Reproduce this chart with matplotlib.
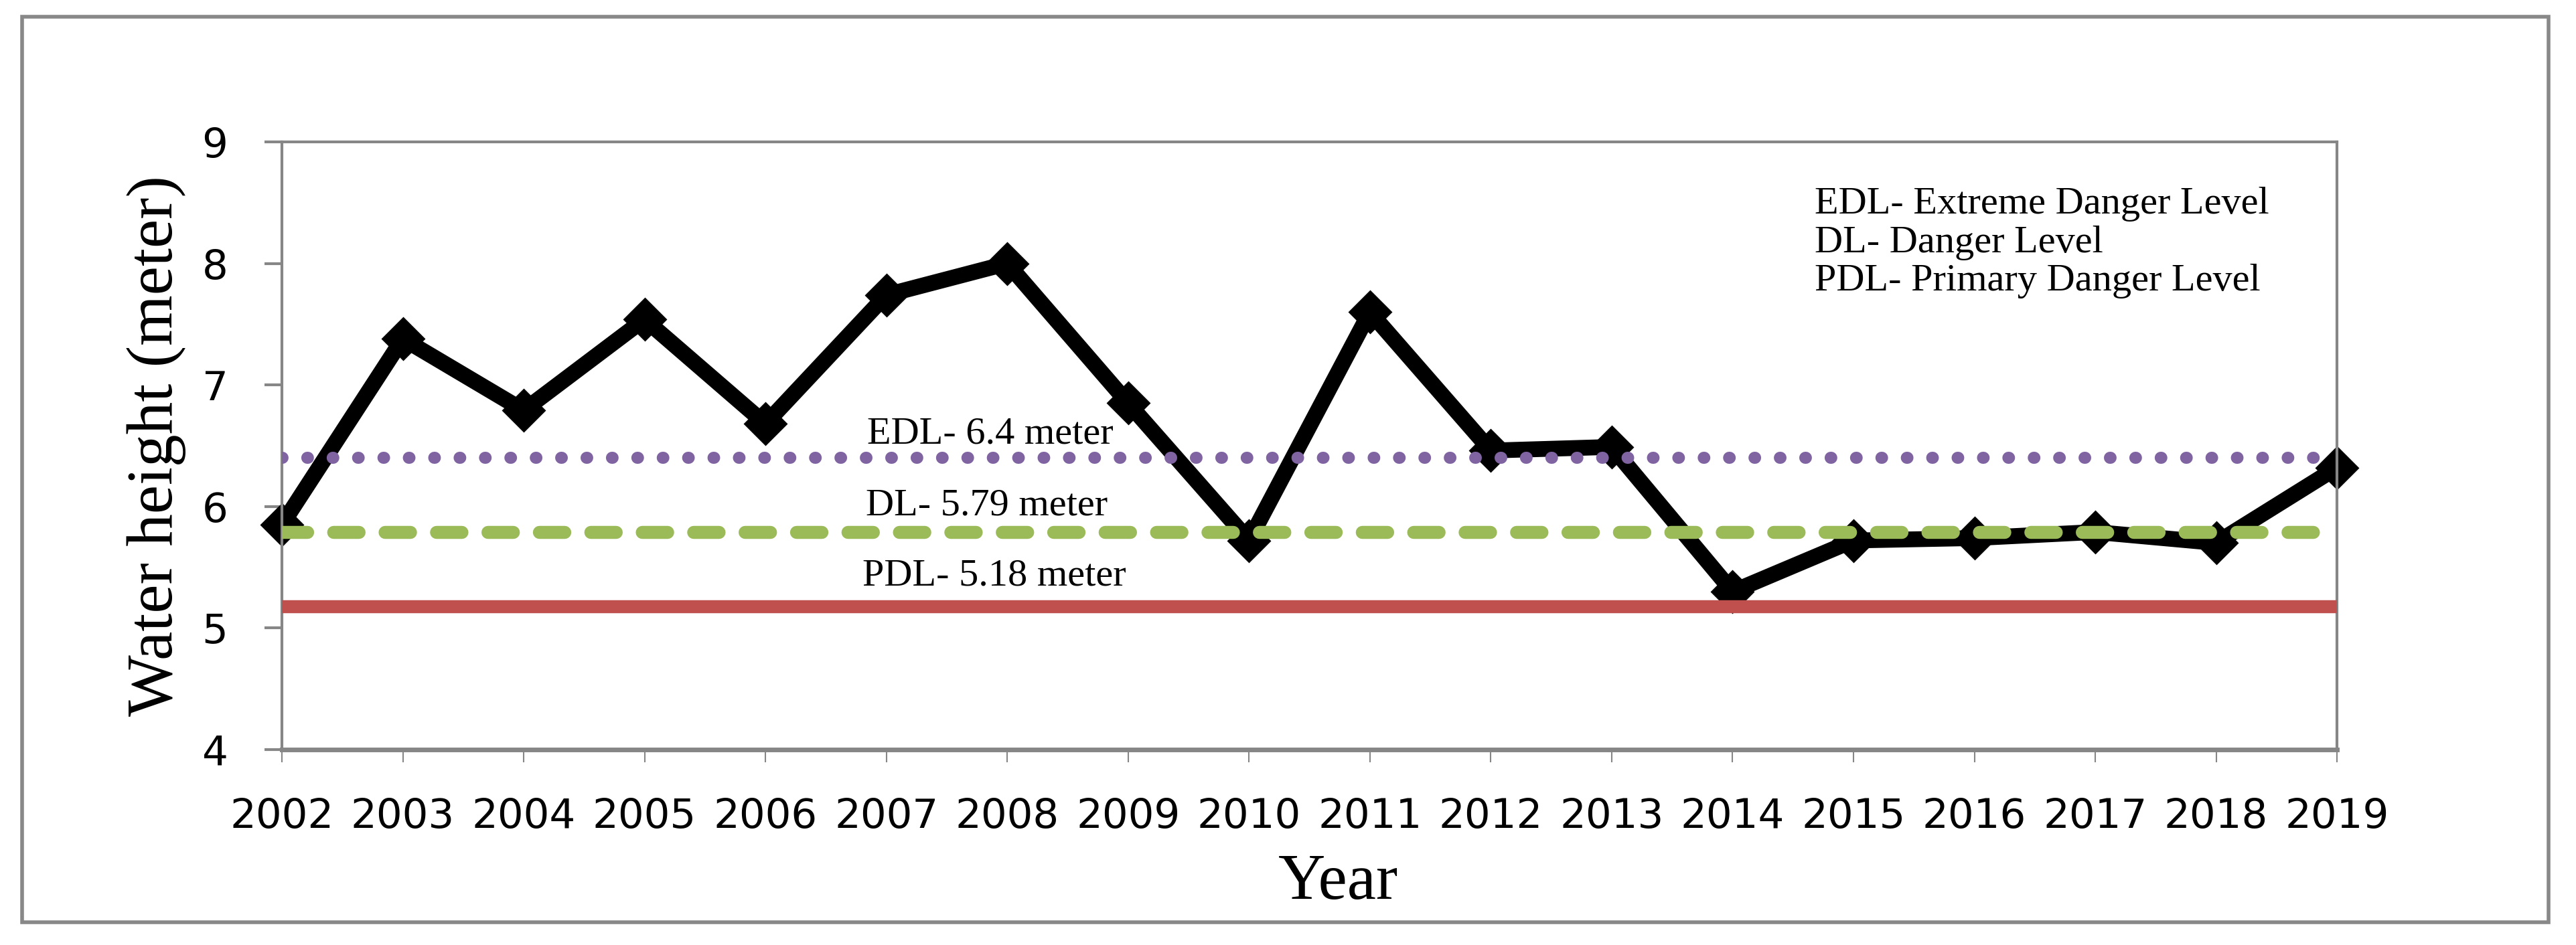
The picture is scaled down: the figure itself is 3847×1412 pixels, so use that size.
import matplotlib
matplotlib.use("Agg")
import matplotlib.pyplot as plt
from matplotlib.patches import Rectangle

# data
years = ['2002', '2003', '2004', '2005', '2006', '2007', '2008', '2009', '2010',
         '2011', '2012', '2013', '2014', '2015', '2016', '2017', '2018', '2019']
water_height = [5.85, 7.38, 6.79, 7.54, 6.68, 7.74, 8.0, 6.85, 5.72,
                7.60, 6.46, 6.49, 5.30, 5.72, 5.74, 5.79, 5.70, 6.32]
edl = 6.4
dl = 5.79
pdl = 5.18
level_labels = ['EDL- 6.4 meter', 'DL- 5.79 meter', 'PDL- 5.18 meter']
key_lines = ['EDL- Extreme Danger Level', 'DL- Danger Level', 'PDL- Primary Danger Level']

serif = 'Liberation Serif'
grey = '#868686'

fig = plt.figure(figsize=(38.48, 14.12), dpi=100)
ax = fig.add_axes([0.1094, 0.2068, 0.7976, 0.6431])

x = list(range(len(years)))
ax.plot(x, water_height, color='black', lw=17, marker='D', ms=32,
        markeredgewidth=2, zorder=2, solid_joinstyle='miter', clip_on=False)

# danger levels (drawn on top of the series, like the original)
ax.axhline(edl, color='#8064A2', lw=13, linestyle=(0, (0.05, 2.05)),
           dash_capstyle='round', zorder=3)
ax.axhline(dl, color='#9BBB59', lw=14, linestyle=(0, (1.95, 2.0)),
           dash_capstyle='round', zorder=3)
ax.axhline(pdl, color='#C0504D', lw=14, zorder=3)

# labels of the levels
ax.text(4.84, 6.52, level_labels[0], fontsize=42, family=serif, va='baseline')
ax.text(4.83, 5.93, level_labels[1], fontsize=42, family=serif, va='baseline')
ax.text(4.80, 5.35, level_labels[2], fontsize=42, family=serif, va='baseline')

key_y = [8.41, 8.09, 7.78]
for txt, yy in zip(key_lines, key_y):
    ax.text(12.68, yy, txt, fontsize=42, family=serif, va='baseline')

ax.set_xlim(0, len(years) - 1)
ax.set_ylim(4, 9)
ax.set_yticks([4, 5, 6, 7, 8, 9])
ax.set_xticks(x)
ax.set_xticklabels(years)

ax.tick_params(axis='y', length=19, width=3, color=grey, pad=39, labelsize=44)
ax.tick_params(axis='x', length=14, width=1.5, color=grey, pad=37, labelsize=44)

for side in ['left', 'top', 'right']:
    ax.spines[side].set_color(grey)
    ax.spines[side].set_linewidth(3)
ax.spines['bottom'].set_color(grey)
ax.spines['bottom'].set_linewidth(5)

ax.set_ylabel('Water height (meter)', fontsize=70, family=serif)
ax.yaxis.set_label_coords(-0.0466, 0.5)
ax.set_xlabel('Year', fontsize=70, family=serif, va='top')
ax.xaxis.set_label_coords(0.514, -0.1707)

# outer chart border
fig.patches.append(Rectangle((33 / 3848, 1 - 1378 / 1412), (3806 - 33) / 3848,
                             (1378 - 25) / 1412, transform=fig.transFigure,
                             fill=False, edgecolor='#888888', lw=4))

fig.savefig('out.png', dpi=100)
